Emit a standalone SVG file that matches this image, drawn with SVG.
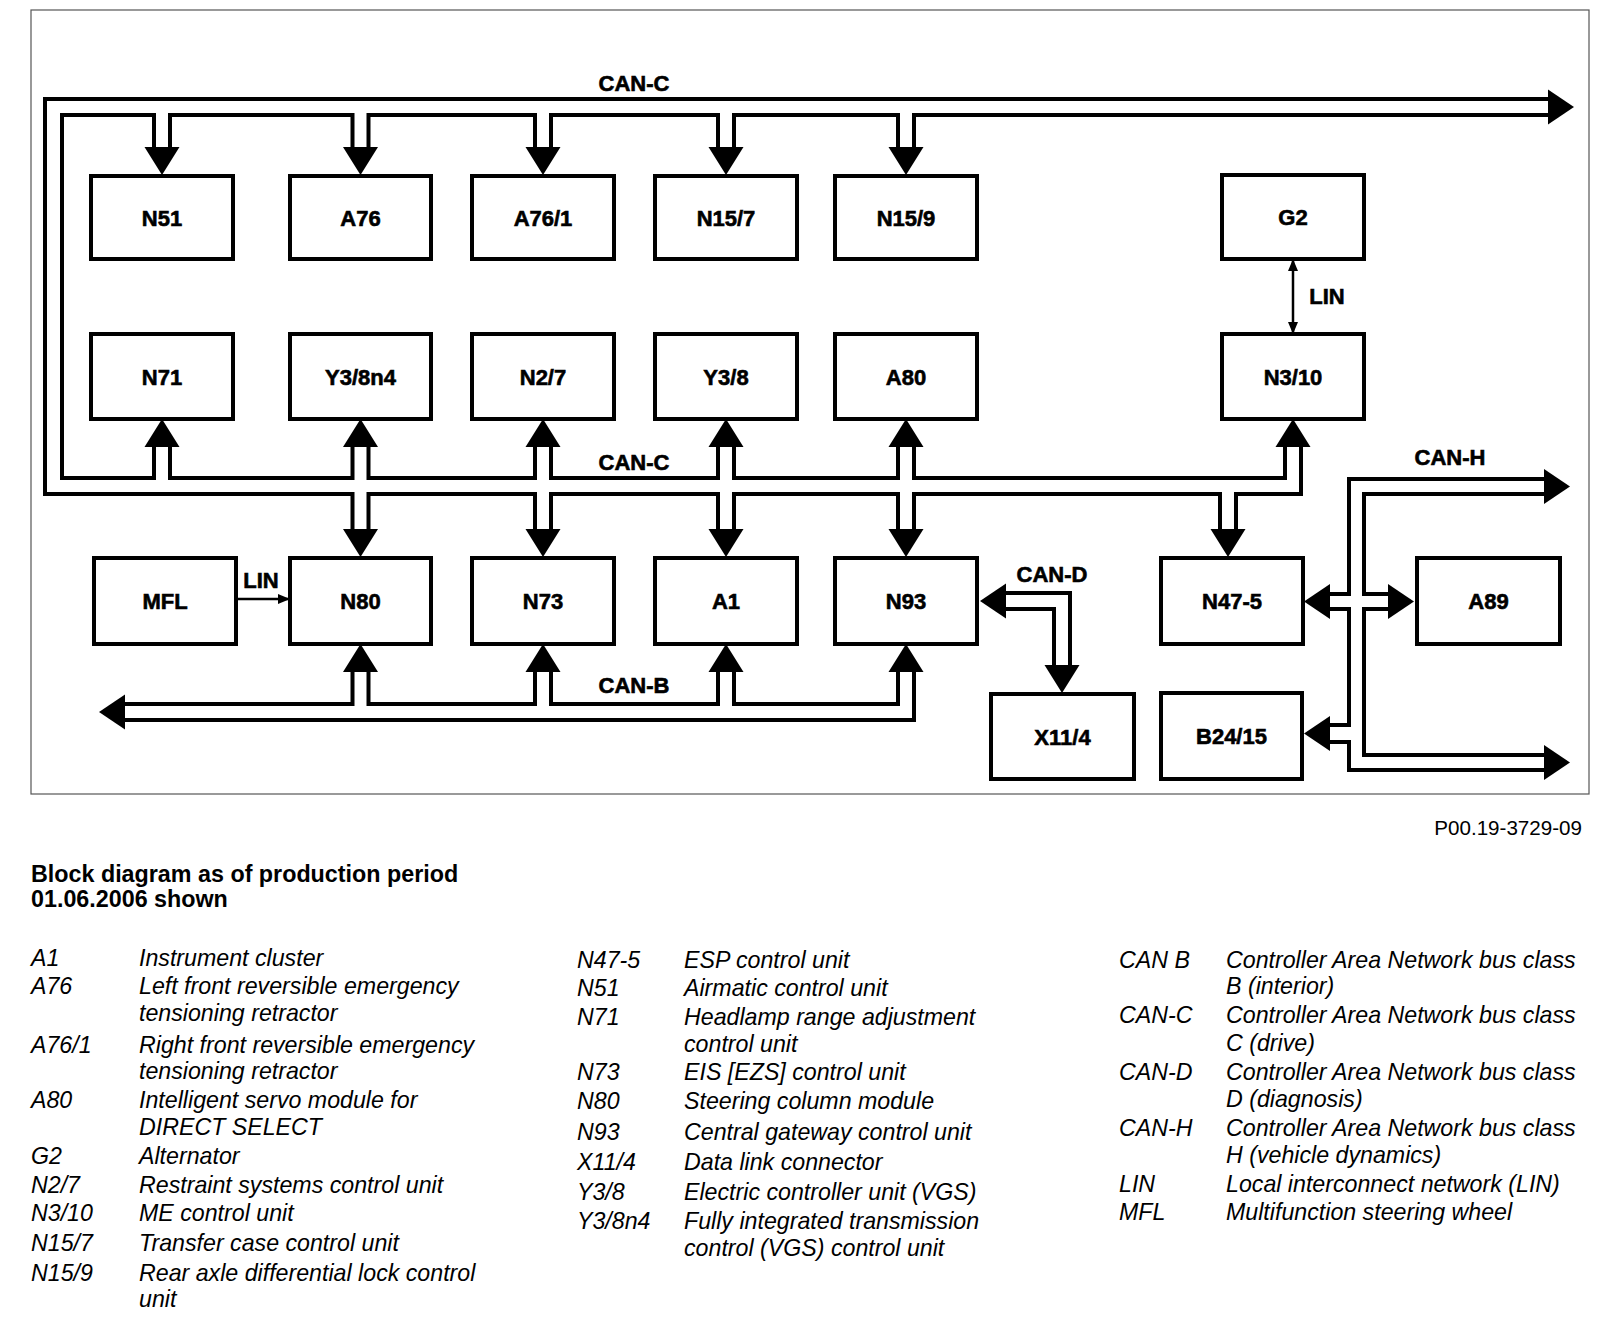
<svg xmlns="http://www.w3.org/2000/svg" width="1600" height="1320" viewBox="0 0 1600 1320">
<style>
.bus{fill:none;stroke:#000;stroke-width:4;stroke-linejoin:miter;stroke-linecap:square}
.lin{fill:none;stroke:#000;stroke-width:2.5}
.box{fill:#fff;stroke:#000;stroke-width:4}
.bl{font-family:"Liberation Sans",Arial,sans-serif;font-weight:bold;font-size:22px;text-anchor:middle;fill:#000;stroke:#000;stroke-width:0.6}
.busl{font-family:"Liberation Sans",Arial,sans-serif;font-weight:bold;font-size:22px;text-anchor:middle;fill:#000;stroke:#000;stroke-width:0.6}
.lg{font-family:"Liberation Sans",Arial,sans-serif;font-style:italic;font-size:23.2px;fill:#000}
.hd{font-family:"Liberation Sans",Arial,sans-serif;font-weight:bold;font-size:23.3px;fill:#000}
.ref{font-family:"Liberation Sans",Arial,sans-serif;font-size:20.6px;fill:#000;text-anchor:end}
.ah{fill:#000}
</style>
<defs>
<polygon id="ad" class="ah" points="-17.5,0 17.5,0 0,28"/>
<polygon id="au" class="ah" points="-17.5,0 17.5,0 0,-28"/>
<polygon id="ar" class="ah" points="0,-17.5 0,17.5 26,0"/>
<polygon id="al" class="ah" points="0,-17.5 0,17.5 -26,0"/>
<marker id="sa" viewBox="0 0 12 10" refX="11" refY="5" markerWidth="12" markerHeight="10" markerUnits="userSpaceOnUse" orient="auto-start-reverse"><path d="M0,0 L12,5 L0,10 Z" fill="#000"/></marker>
</defs>
<rect x="31" y="10" width="1558" height="784" fill="#fff" stroke="#555" stroke-width="1.2"/>

<g id="connectors">
<path class="bus" d="M1548,99 H45 V494 H352.5 V529"/>
<path class="bus" d="M368.5,529 V494 H535 V529"/>
<path class="bus" d="M551,529 V494 H718 V529"/>
<path class="bus" d="M734,529 V494 H898 V529"/>
<path class="bus" d="M914,529 V494 H1220 V529"/>
<path class="bus" d="M1236,529 V494 H1301 V447"/>
<path class="bus" d="M1548,115 H914 V147"/>
<path class="bus" d="M898,147 V115 H734 V147"/>
<path class="bus" d="M718,147 V115 H551 V147"/>
<path class="bus" d="M535,147 V115 H368.5 V147"/>
<path class="bus" d="M352.5,147 V115 H170 V147"/>
<path class="bus" d="M154,147 V115 H62 V478 H154 V447"/>
<path class="bus" d="M170,447 V478 H352.5 V447"/>
<path class="bus" d="M368.5,447 V478 H535 V447"/>
<path class="bus" d="M551,447 V478 H718 V447"/>
<path class="bus" d="M734,447 V478 H898 V447"/>
<path class="bus" d="M914,447 V478 H1285 V447"/>
<use href="#ar" x="1548" y="107"/>
<use href="#ad" x="162" y="147"/>
<use href="#ad" x="360.5" y="147"/>
<use href="#ad" x="543" y="147"/>
<use href="#ad" x="726" y="147"/>
<use href="#ad" x="906" y="147"/>
<use href="#au" x="162" y="447"/>
<use href="#au" x="360.5" y="447"/>
<use href="#au" x="543" y="447"/>
<use href="#au" x="726" y="447"/>
<use href="#au" x="906" y="447"/>
<use href="#au" x="1293" y="447"/>
<use href="#ad" x="360.5" y="529"/>
<use href="#ad" x="543" y="529"/>
<use href="#ad" x="726" y="529"/>
<use href="#ad" x="906" y="529"/>
<use href="#ad" x="1228" y="529"/>
<path class="bus" d="M125,704 H352.5 V672"/>
<path class="bus" d="M368.5,672 V704 H535 V672"/>
<path class="bus" d="M551,672 V704 H718 V672"/>
<path class="bus" d="M734,672 V704 H898 V672"/>
<path class="bus" d="M914,672 V720 H125"/>
<use href="#al" x="125" y="712"/>
<use href="#au" x="360.5" y="672"/>
<use href="#au" x="543" y="672"/>
<use href="#au" x="726" y="672"/>
<use href="#au" x="906" y="672"/>
<path class="bus" d="M1007,593 H1070 V665"/>
<path class="bus" d="M1007,609 H1054 V665"/>
<use href="#al" x="1006" y="601"/>
<use href="#ad" x="1062" y="665"/>
<path class="bus" d="M1544,479 H1349 V594 H1330"/>
<path class="bus" d="M1330,609 H1349 V725 H1330"/>
<path class="bus" d="M1330,742 H1349 V770 H1544"/>
<path class="bus" d="M1544,494 H1364 V594 H1388"/>
<path class="bus" d="M1388,609 H1364 V755 H1544"/>
<use href="#ar" x="1544" y="486.5"/>
<use href="#ar" x="1544" y="762.5"/>
<use href="#al" x="1330" y="601.5"/>
<use href="#ar" x="1388" y="601.5"/>
<use href="#al" x="1330" y="733.5"/>
<path class="lin" d="M1293,333 V260" marker-start="url(#sa)" marker-end="url(#sa)"/>
<path class="lin" d="M237,599 H289" marker-end="url(#sa)"/>
<text class="busl" x="634" y="91">CAN-C</text>
<text class="busl" x="634" y="470">CAN-C</text>
<text class="busl" x="634" y="693">CAN-B</text>
<text class="busl" x="1052" y="582">CAN-D</text>
<text class="busl" x="1450" y="465">CAN-H</text>
<text class="busl" x="1327" y="304">LIN</text>
<text class="busl" x="261" y="588">LIN</text>
</g>

<g id="N51"><rect class="box" x="91" y="176" width="142" height="83"/><text class="bl" x="162" y="226">N51</text></g>
<g id="A76"><rect class="box" x="290" y="176" width="141" height="83"/><text class="bl" x="360.5" y="226">A76</text></g>
<g id="A76-1"><rect class="box" x="472" y="176" width="142" height="83"/><text class="bl" x="543" y="226">A76/1</text></g>
<g id="N15-7"><rect class="box" x="655" y="176" width="142" height="83"/><text class="bl" x="726" y="226">N15/7</text></g>
<g id="N15-9"><rect class="box" x="835" y="176" width="142" height="83"/><text class="bl" x="906" y="226">N15/9</text></g>
<g id="G2"><rect class="box" x="1222" y="175" width="142" height="84"/><text class="bl" x="1293" y="225">G2</text></g>

<g id="N71"><rect class="box" x="91" y="334" width="142" height="85"/><text class="bl" x="162" y="385">N71</text></g>
<g id="Y3-8n4"><rect class="box" x="290" y="334" width="141" height="85"/><text class="bl" x="360.5" y="385">Y3/8n4</text></g>
<g id="N2-7"><rect class="box" x="472" y="334" width="142" height="85"/><text class="bl" x="543" y="385">N2/7</text></g>
<g id="Y3-8"><rect class="box" x="655" y="334" width="142" height="85"/><text class="bl" x="726" y="385">Y3/8</text></g>
<g id="A80"><rect class="box" x="835" y="334" width="142" height="85"/><text class="bl" x="906" y="385">A80</text></g>
<g id="N3-10"><rect class="box" x="1222" y="334" width="142" height="85"/><text class="bl" x="1293" y="385">N3/10</text></g>

<g id="MFL"><rect class="box" x="94" y="558" width="142" height="86"/><text class="bl" x="165" y="609">MFL</text></g>
<g id="N80"><rect class="box" x="290" y="558" width="141" height="86"/><text class="bl" x="360.5" y="609">N80</text></g>
<g id="N73"><rect class="box" x="472" y="558" width="142" height="86"/><text class="bl" x="543" y="609">N73</text></g>
<g id="A1"><rect class="box" x="655" y="558" width="142" height="86"/><text class="bl" x="726" y="609">A1</text></g>
<g id="N93"><rect class="box" x="835" y="558" width="142" height="86"/><text class="bl" x="906" y="609">N93</text></g>
<g id="N47-5"><rect class="box" x="1161" y="558" width="142" height="86"/><text class="bl" x="1232" y="609">N47-5</text></g>
<g id="A89"><rect class="box" x="1417" y="558" width="143" height="86"/><text class="bl" x="1488.5" y="609">A89</text></g>

<g id="X11-4"><rect class="box" x="991" y="694" width="143" height="85"/><text class="bl" x="1062.5" y="745">X11/4</text></g>
<g id="B24-15"><rect class="box" x="1161" y="693" width="141" height="86"/><text class="bl" x="1231.5" y="744">B24/15</text></g>

<g id="legend">
<text class="ref" x="1582" y="835">P00.19-3729-09</text>
<text class="hd" x="31" y="882">Block diagram as of production period</text>
<text class="hd" x="31" y="907">01.06.2006 shown</text>

<text class="lg" x="31" y="966">A1</text><text class="lg" x="139" y="966">Instrument cluster</text>
<text class="lg" x="31" y="994">A76</text><text class="lg" x="139" y="994">Left front reversible emergency</text>
<text class="lg" x="139" y="1021">tensioning retractor</text>
<text class="lg" x="31" y="1053">A76/1</text><text class="lg" x="139" y="1053">Right front reversible emergency</text>
<text class="lg" x="139" y="1079">tensioning retractor</text>
<text class="lg" x="31" y="1108">A80</text><text class="lg" x="139" y="1108">Intelligent servo module for</text>
<text class="lg" x="139" y="1135">DIRECT SELECT</text>
<text class="lg" x="31" y="1164">G2</text><text class="lg" x="139" y="1164">Alternator</text>
<text class="lg" x="31" y="1193">N2/7</text><text class="lg" x="139" y="1193">Restraint systems control unit</text>
<text class="lg" x="31" y="1221">N3/10</text><text class="lg" x="139" y="1221">ME control unit</text>
<text class="lg" x="31" y="1251">N15/7</text><text class="lg" x="139" y="1251">Transfer case control unit</text>
<text class="lg" x="31" y="1281">N15/9</text><text class="lg" x="139" y="1281">Rear axle differential lock control</text>
<text class="lg" x="139" y="1307">unit</text>

<text class="lg" x="577" y="968">N47-5</text><text class="lg" x="684" y="968">ESP control unit</text>
<text class="lg" x="577" y="996">N51</text><text class="lg" x="684" y="996">Airmatic control unit</text>
<text class="lg" x="577" y="1025">N71</text><text class="lg" x="684" y="1025">Headlamp range adjustment</text>
<text class="lg" x="684" y="1052">control unit</text>
<text class="lg" x="577" y="1080">N73</text><text class="lg" x="684" y="1080">EIS [EZS] control unit</text>
<text class="lg" x="577" y="1109">N80</text><text class="lg" x="684" y="1109">Steering column module</text>
<text class="lg" x="577" y="1140">N93</text><text class="lg" x="684" y="1140">Central gateway control unit</text>
<text class="lg" x="577" y="1170">X11/4</text><text class="lg" x="684" y="1170">Data link connector</text>
<text class="lg" x="577" y="1200">Y3/8</text><text class="lg" x="684" y="1200">Electric controller unit (VGS)</text>
<text class="lg" x="577" y="1229">Y3/8n4</text><text class="lg" x="684" y="1229">Fully integrated transmission</text>
<text class="lg" x="684" y="1256">control (VGS) control unit</text>

<text class="lg" x="1119" y="968">CAN B</text><text class="lg" x="1226" y="968">Controller Area Network bus class</text>
<text class="lg" x="1226" y="994">B (interior)</text>
<text class="lg" x="1119" y="1023">CAN-C</text><text class="lg" x="1226" y="1023">Controller Area Network bus class</text>
<text class="lg" x="1226" y="1051">C (drive)</text>
<text class="lg" x="1119" y="1080">CAN-D</text><text class="lg" x="1226" y="1080">Controller Area Network bus class</text>
<text class="lg" x="1226" y="1107">D (diagnosis)</text>
<text class="lg" x="1119" y="1136">CAN-H</text><text class="lg" x="1226" y="1136">Controller Area Network bus class</text>
<text class="lg" x="1226" y="1163">H (vehicle dynamics)</text>
<text class="lg" x="1119" y="1192">LIN</text><text class="lg" x="1226" y="1192">Local interconnect network (LIN)</text>
<text class="lg" x="1119" y="1220">MFL</text><text class="lg" x="1226" y="1220">Multifunction steering wheel</text>
</g>
</svg>
